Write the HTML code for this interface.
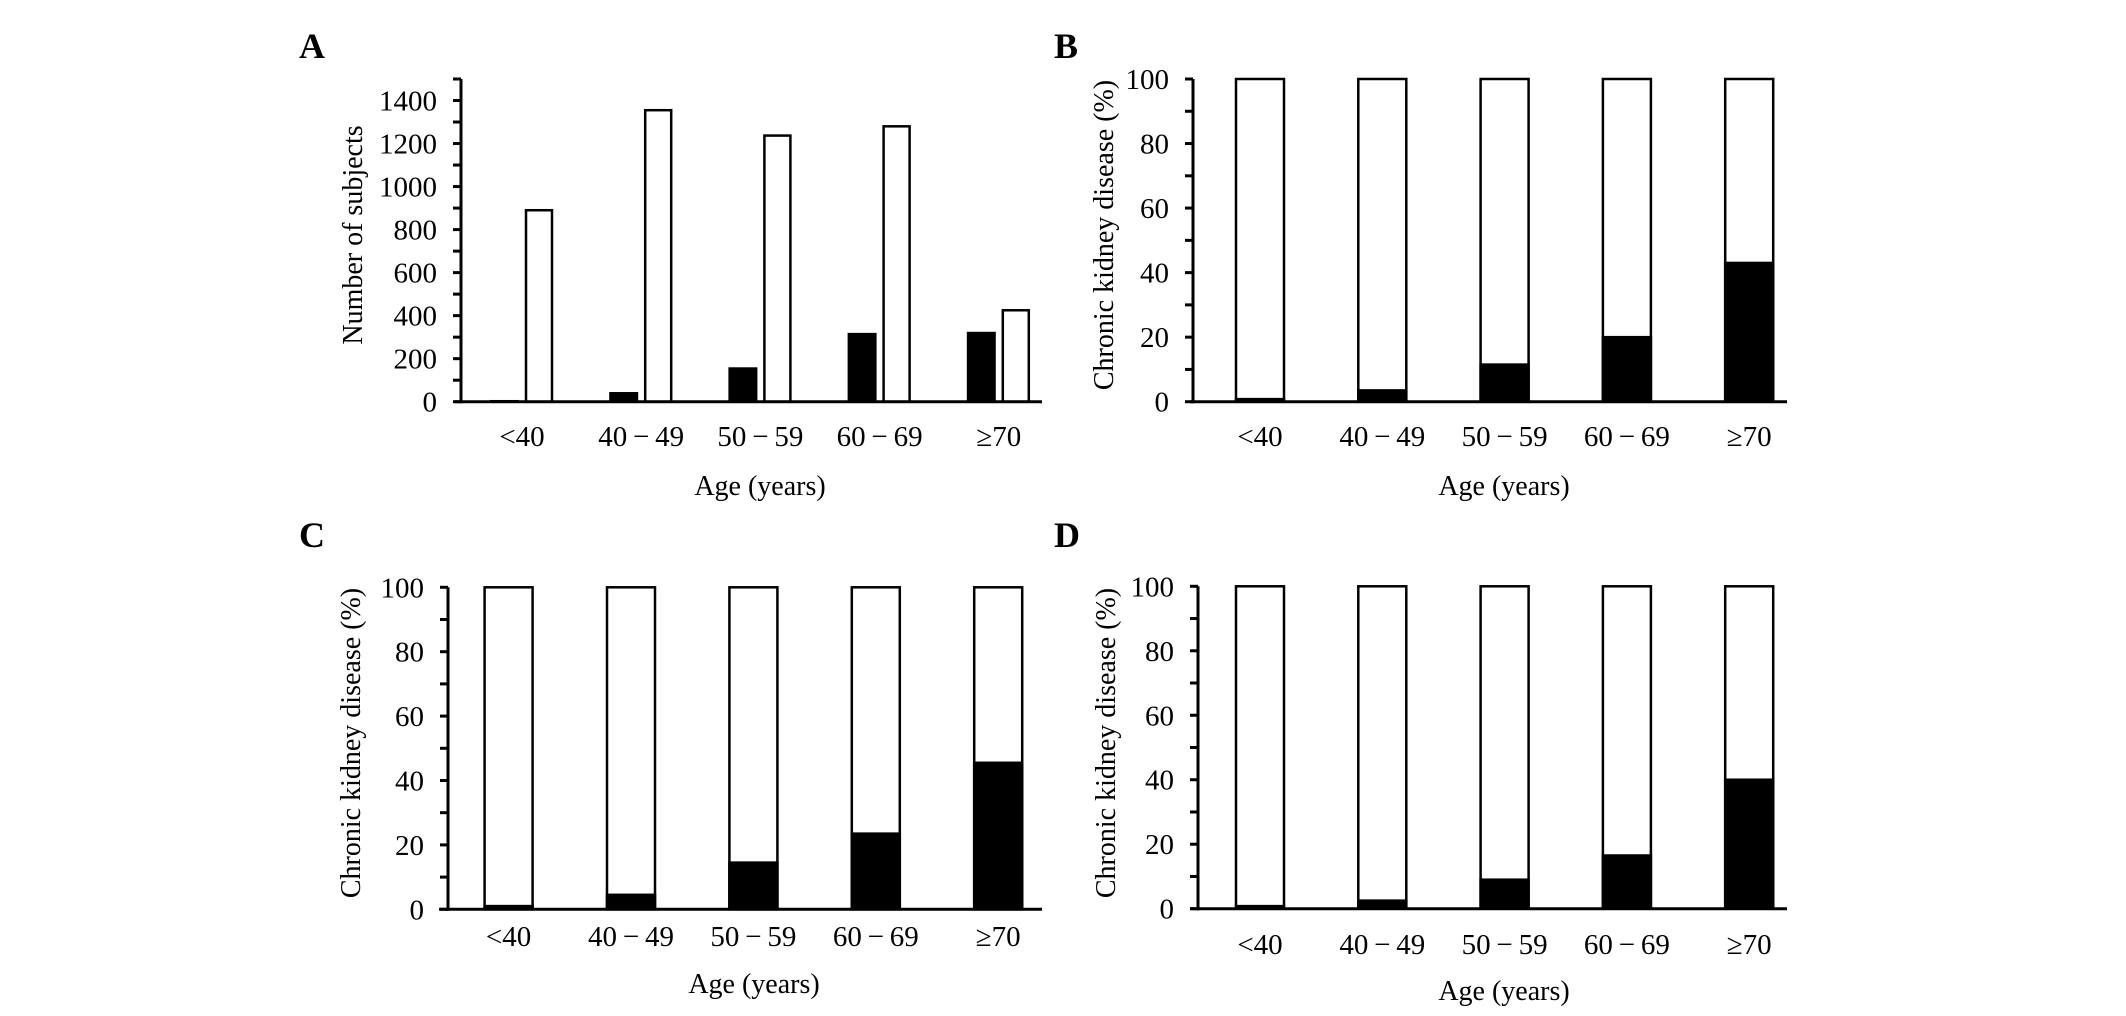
<!DOCTYPE html>
<html><head><meta charset="utf-8"><style>
html,body{margin:0;padding:0;background:#fff;}
svg{display:block;font-family:"Liberation Serif","Times New Roman",serif;}
</style></head><body>
<svg id="fig" width="2126" height="1016" viewBox="0 0 2126 1016" xmlns="http://www.w3.org/2000/svg"></svg>
<script>
const categories = ["<40","40\u2009\u2212\u200949","50\u2009\u2212\u200959","60\u2009\u2212\u200969","\u226570"];
const aCkd = [8, 45, 160, 320, 325];
const aNonCkd = [890, 1355, 1237, 1280, 425];
const bCkd = [0.8, 3.5, 11.5, 20, 43];
const cCkd = [1, 4.5, 14.5, 23.5, 45.5];
const dCkd = [0.8, 2.5, 9, 16.5, 40];
const aTicks = [0,200,400,600,800,1000,1200,1400];
const pctTicks = [0,20,40,60,80,100];

const NS="http://www.w3.org/2000/svg";
const svg=document.getElementById('fig');
function el(tag,attrs,parent,text){const e=document.createElementNS(NS,tag);for(const k in attrs)e.setAttribute(k,attrs[k]);if(text!==undefined)e.textContent=text;(parent||svg).appendChild(e);return e;}

function panel(cfg){
  const g=el('g',{});
  
  
  const y=v=>cfg.y0-(v-cfg.min)/(cfg.max-cfg.min)*(cfg.y0-cfg.yTop);
  const lab=el('text',{x:cfg.labX,y:cfg.labY,'font-size':36,'font-weight':'bold'},g,cfg.id);
  
  
  for(let v=cfg.min;v<=cfg.max+1e-9;v+=cfg.minor){
    const t=el('line',{x1:cfg.ax-8,x2:cfg.ax,y1:y(v),y2:y(v),stroke:'#000','stroke-width':3},g);
    
    
  }
  cfg.ticks.forEach(v=>{
    const t=el('text',{x:cfg.ax-24,y:y(v)+10,'font-size':29,'text-anchor':'end'},g,String(v));
    
    
  });
  const ya=el('line',{x1:cfg.ax,x2:cfg.ax,y1:cfg.yTop,y2:cfg.y0+1.5,stroke:'#000','stroke-width':3},g);
  
  
  const yt=el('text',{x:0,y:0,'font-size':28,'text-anchor':'middle',transform:`translate(${cfg.ytX},${cfg.ytY}) rotate(-90)`},g,cfg.yTitle);
  
  
  categories.forEach((c,i)=>{
    const cx=cfg.c0+cfg.step*i;
    if(cfg.grouped){
      const h1=y(0)-y(cfg.s1[i]);
      const b1=el('rect',{x:cx-32,y:y(cfg.s1[i]),width:29,height:h1,fill:'#000'},g);
      
      
      const b2=el('rect',{x:cx+4,y:y(cfg.s2[i]),width:26,height:y(0)-y(cfg.s2[i]),fill:'#fff',stroke:'#000','stroke-width':2.5},g);
      
      
    } else {
      const w=48;
      const bo=el('rect',{x:cx-w/2,y:y(100),width:w,height:y(0)-y(100),fill:'#fff',stroke:'#000','stroke-width':2.5},g);
      
      
      const bf=el('rect',{x:cx-w/2,y:y(cfg.s1[i]),width:w,height:y(0)-y(cfg.s1[i]),fill:'#000',stroke:'#000','stroke-width':2.5},g);
      
      
    }
    const t=el('text',{x:cx,y:cfg.xlY,'font-size':29,'text-anchor':'middle'},g,c);
    
    
  });
  const xa=el('line',{x1:cfg.xa1,x2:cfg.xa2,y1:cfg.y0,y2:cfg.y0,stroke:'#000','stroke-width':3},g);
  
  
  const xt=el('text',{x:cfg.xtX,y:cfg.xtY,'font-size':28,'text-anchor':'middle'},g,'Age (years)');
  
  
}

panel({id:'A',labX:299,labY:58,ax:461,yTop:79,y0:401.7,min:0,max:1500,minor:100,ticks:aTicks,
  ytX:362,ytY:235,yTitle:'Number of subjects',grouped:true,s1:aCkd,s2:aNonCkd,c0:522,step:119.2,
  xa1:455,xa2:1042,xlY:446,xtX:760,xtY:495});
panel({id:'B',labX:1054,labY:58,ax:1193,yTop:79,y0:401.7,min:0,max:100,minor:10,ticks:pctTicks,
  ytX:1113,ytY:235,yTitle:'Chronic kidney disease (%)',grouped:false,s1:bCkd,c0:1260,step:122.3,
  xa1:1190,xa2:1787,xlY:446,xtX:1504,xtY:495});
panel({id:'C',labX:299,labY:547,ax:448,yTop:587.3,y0:909.3,min:0,max:100,minor:10,ticks:pctTicks,
  ytX:360,ytY:743,yTitle:'Chronic kidney disease (%)',grouped:false,s1:cCkd,c0:508.6,step:122.4,
  xa1:439,xa2:1042,xlY:946,xtX:754,xtY:993});
panel({id:'D',labX:1054,labY:547,ax:1198,yTop:586.3,y0:908.7,min:0,max:100,minor:10,ticks:pctTicks,
  ytX:1115,ytY:743,yTitle:'Chronic kidney disease (%)',grouped:false,s1:dCkd,c0:1260,step:122.3,
  xa1:1190,xa2:1787,xlY:954,xtX:1504,xtY:1000});
</script>
</body></html>
